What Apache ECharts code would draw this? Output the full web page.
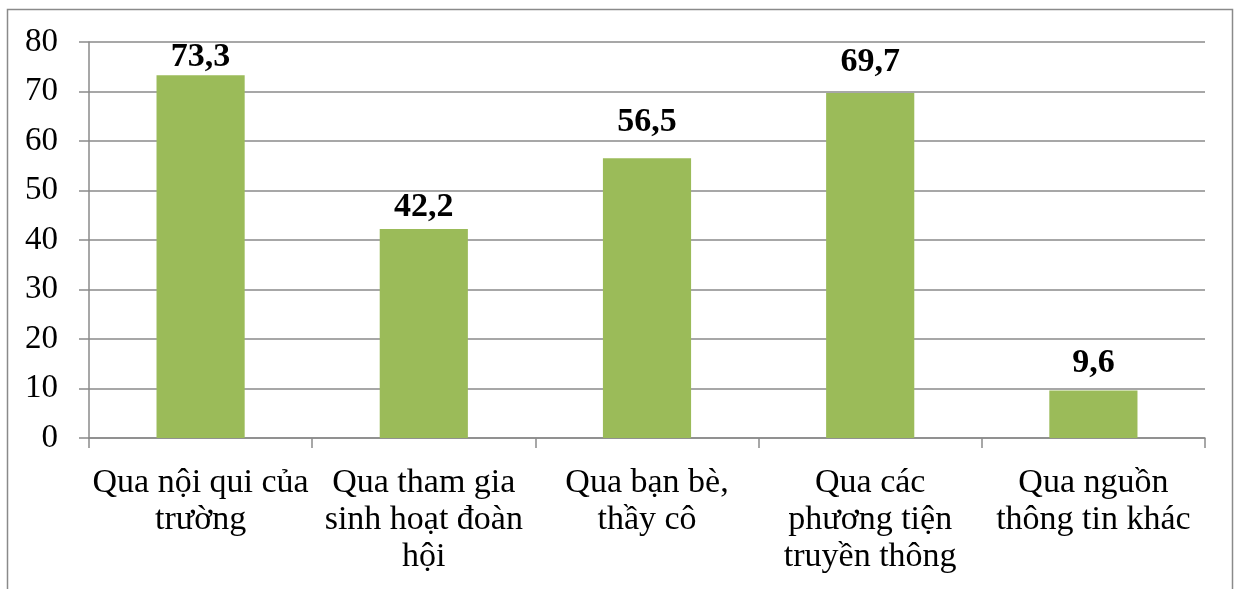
<!DOCTYPE html>
<html>
<head>
<meta charset="utf-8">
<script src="https://cdn.jsdelivr.net/npm/echarts@6/dist/echarts.min.js"></script>
<style>
  html, body { margin: 0; padding: 0; background: #fff; }
  #chart { width: 1234px; height: 589px; }
</style>
</head>
<body>
<div id="chart"></div>
<script>
// Kênh tiếp cận thông tin (%)
const categories = [
  'Qua nội qui của\ntrường',
  'Qua tham gia\nsinh hoạt đoàn\nhội',
  'Qua bạn bè,\nthầy cô',
  'Qua các\nphương tiện\ntruyền thông',
  'Qua nguồn\nthông tin khác'
];
const values = [73.3, 42.2, 56.5, 69.7, 9.6];
const yTicks = { min: 0, max: 80, interval: 10 };

const FONT = '"Liberation Serif", "Times New Roman", serif';
const GRID_COLOR = '#8a8a8a';
// gap between each value label and the top of its bar (px)
const LABEL_GAPS = [1, 5, 19, 14, 10];

const chart = echarts.init(document.getElementById('chart'), null, { renderer: 'canvas' });
chart.setOption({
  backgroundColor: '#fff',
  animation: false,
  graphic: [{
    type: 'rect',
    shape: { x: 7.5, y: 9.5, width: 1225, height: 600 },
    style: { fill: 'none', stroke: GRID_COLOR, lineWidth: 1.5 },
    silent: true,
    z: -1
  }],
  grid: { left: 89, right: 29, top: 42, bottom: 151, containLabel: false },
  xAxis: {
    type: 'category',
    data: categories,
    axisLine: { show: true, lineStyle: { color: GRID_COLOR, width: 1.5 } },
    axisTick: { show: true, length: 10, alignWithLabel: false, lineStyle: { color: GRID_COLOR, width: 1.5 } },
    axisLabel: {
      interval: 0,
      margin: 27,
      fontFamily: FONT,
      fontSize: 34,
      lineHeight: 37,
      color: '#000',
      align: 'center'
    }
  },
  yAxis: {
    type: 'value',
    min: yTicks.min,
    max: yTicks.max,
    interval: yTicks.interval,
    axisLine: { show: true, lineStyle: { color: GRID_COLOR, width: 1.5 } },
    axisTick: { show: true, length: 10, lineStyle: { color: GRID_COLOR, width: 1.5 } },
    splitLine: { show: true, lineStyle: { color: GRID_COLOR, width: 1.5 } },
    axisLabel: {
      margin: 31,
      fontFamily: FONT,
      fontSize: 33,
      color: '#000'
    }
  },
  series: [{
    type: 'bar',
    data: values.map((v, i) => ({ value: v, label: { distance: LABEL_GAPS[i] } })),
    barWidth: '39.5%',
    itemStyle: { color: '#9bbb59' },
    label: {
      show: true,
      position: 'top',
      fontFamily: FONT,
      fontSize: 34,
      fontWeight: 'bold',
      color: '#000',
      formatter: p => p.value.toFixed(1).replace('.', ',')
    }
  }]
});
</script>
</body>
</html>
